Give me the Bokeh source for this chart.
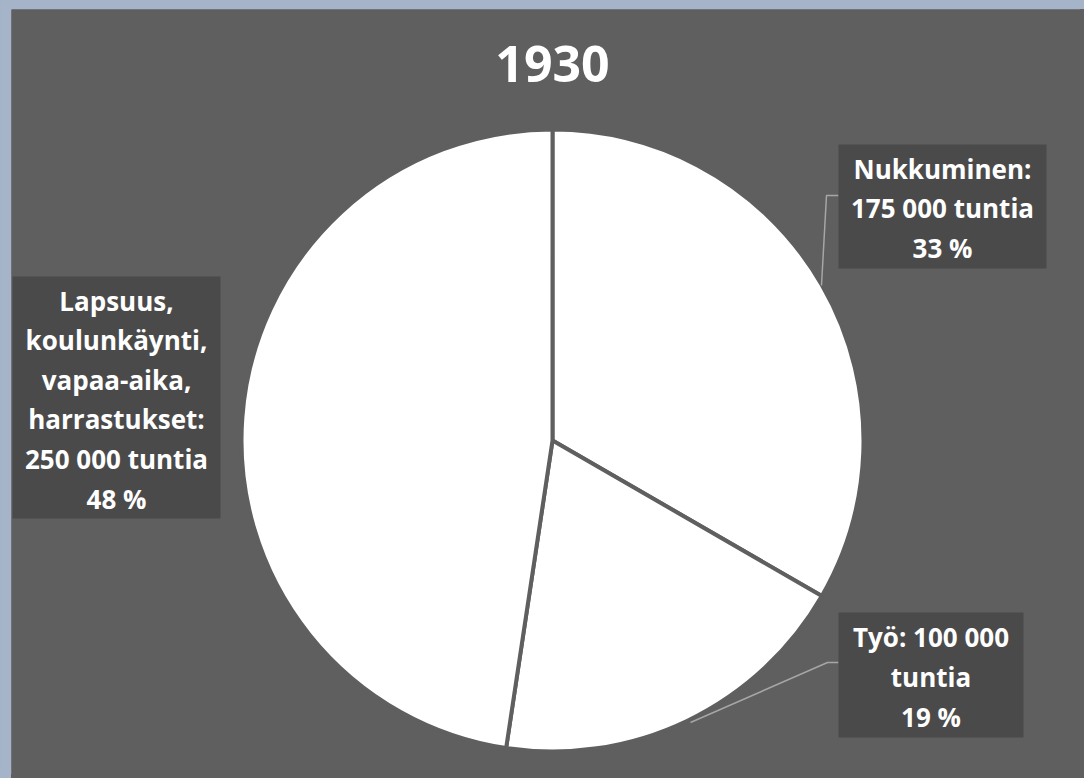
import math
from bokeh.plotting import figure
from bokeh.models import ColumnDataSource, Range1d, GlobalInlineStyleSheet
from bokeh.core.properties import value
from bokeh.embed import file_html
from bokeh.resources import INLINE

# ---------------- data ----------------
title_text = "1930"
categories = ["Nukkuminen", "Työ", "Lapsuus, koulunkäynti, vapaa-aika, harrastukset"]
hours = [175000, 100000, 250000]
unit = "tuntia"

# ---------------- layout (reference pixel coords, y from top) ----------------
W, H = 1080, 774
PAGE = 0
BORDER_L, BORDER_T = 11, 9
CX, CY, R = 552, 440, 311
# label boxes: left, top, right, bottom
boxes = [(838, 144, 1046, 268), (838, 612, 1023, 737), (12, 276, 220, 518)]
leaders = [[(838, 195), (826, 195), (821, 285)],
           [(838, 662), (827, 662), (690, 722)],
           []]

PANEL = "#5f5f5f"
BLUE = "#a5b4c8"
BOX = "#4b4a4b"
FONT = "Open Sans"

def fy(y_ref):
    return 778 - y_ref

total = sum(hours)
fracs = [h / total for h in hours]
pcts = [f"{round(f * 100)} %" for f in fracs]
hfmt = [f"{h:,}".replace(",", " ") for h in hours]

label_texts = [
    f"{categories[0]}:\n{hfmt[0]} {unit}\n{pcts[0]}",
    f"{categories[1]}: {hfmt[1]}\n{unit}\n{pcts[1]}",
    "Lapsuus,\nkoulunkäynti,\nvapaa-aika,\nharrastukset:\n" + f"{hfmt[2]} {unit}\n{pcts[2]}",
]

starts, ends = [], []
cum = 0.0
for f in fracs:
    starts.append(math.pi / 2 - 2 * math.pi * cum)
    cum += f
    ends.append(math.pi / 2 - 2 * math.pi * cum)

x0 = PAGE + BORDER_L
y_top = PAGE + BORDER_T
p = figure(width=W, height=H, output_backend="svg", toolbar_location=None,
           x_range=Range1d(x0, PAGE + W), y_range=Range1d(fy(PAGE + H), fy(y_top)),
           x_axis_type=None, y_axis_type=None,
           min_border_left=BORDER_L, min_border_top=BORDER_T,
           min_border_right=0, min_border_bottom=0,
           background_fill_color=PANEL, border_fill_color=BLUE, outline_line_color=None)
p.grid.visible = False

p.stylesheets = [GlobalInlineStyleSheet(css=(
    f"html {{ background: linear-gradient({BLUE},{BLUE}) 0 0 / 100% 9px no-repeat, "
    f"linear-gradient({BLUE},{BLUE}) 0 0 / 11px 100% no-repeat, {PANEL}; }} body {{ background: transparent; }}"))]

pie = ColumnDataSource(dict(cat=categories, hours=hours, start=starts, end=ends))
p.wedge(x=CX, y=fy(CY), radius=R, start_angle="start", end_angle="end", direction="clock",
        fill_color="white", line_color=PANEL, line_width=4, source=pie)

# leader lines
lx = [[pt[0] for pt in L] for L in leaders if L]
ly = [[fy(pt[1]) for pt in L] for L in leaders if L]
p.multi_line(xs=lx, ys=ly, line_color="#a6a6a6", line_width=1.5)

# label boxes
box_src = ColumnDataSource(dict(
    left=[b[0] for b in boxes], right=[b[2] for b in boxes],
    top=[fy(b[1]) for b in boxes], bottom=[fy(b[3]) for b in boxes],
    tx=[(b[0] + b[2]) / 2 for b in boxes], ty=[fy((b[1] + b[3]) / 2 + 2) for b in boxes],
    text=label_texts))
p.quad(left="left", right="right", top="top", bottom="bottom", fill_color=BOX,
       line_color=None, source=box_src)
p.text(x="tx", y="ty", text="text", source=box_src, text_color="white",
       text_font=value(FONT), text_font_style="bold", text_font_size="26px",
       text_align="center", text_baseline="middle", text_line_height=1.1)

# title
p.text(x=[CX], y=[fy(63)], text=[title_text], text_color="white",
       text_font=value(FONT), text_font_style="bold", text_font_size="50px",
       text_align="center", text_baseline="middle")

open("out.html", "w").write(file_html(p, INLINE))
